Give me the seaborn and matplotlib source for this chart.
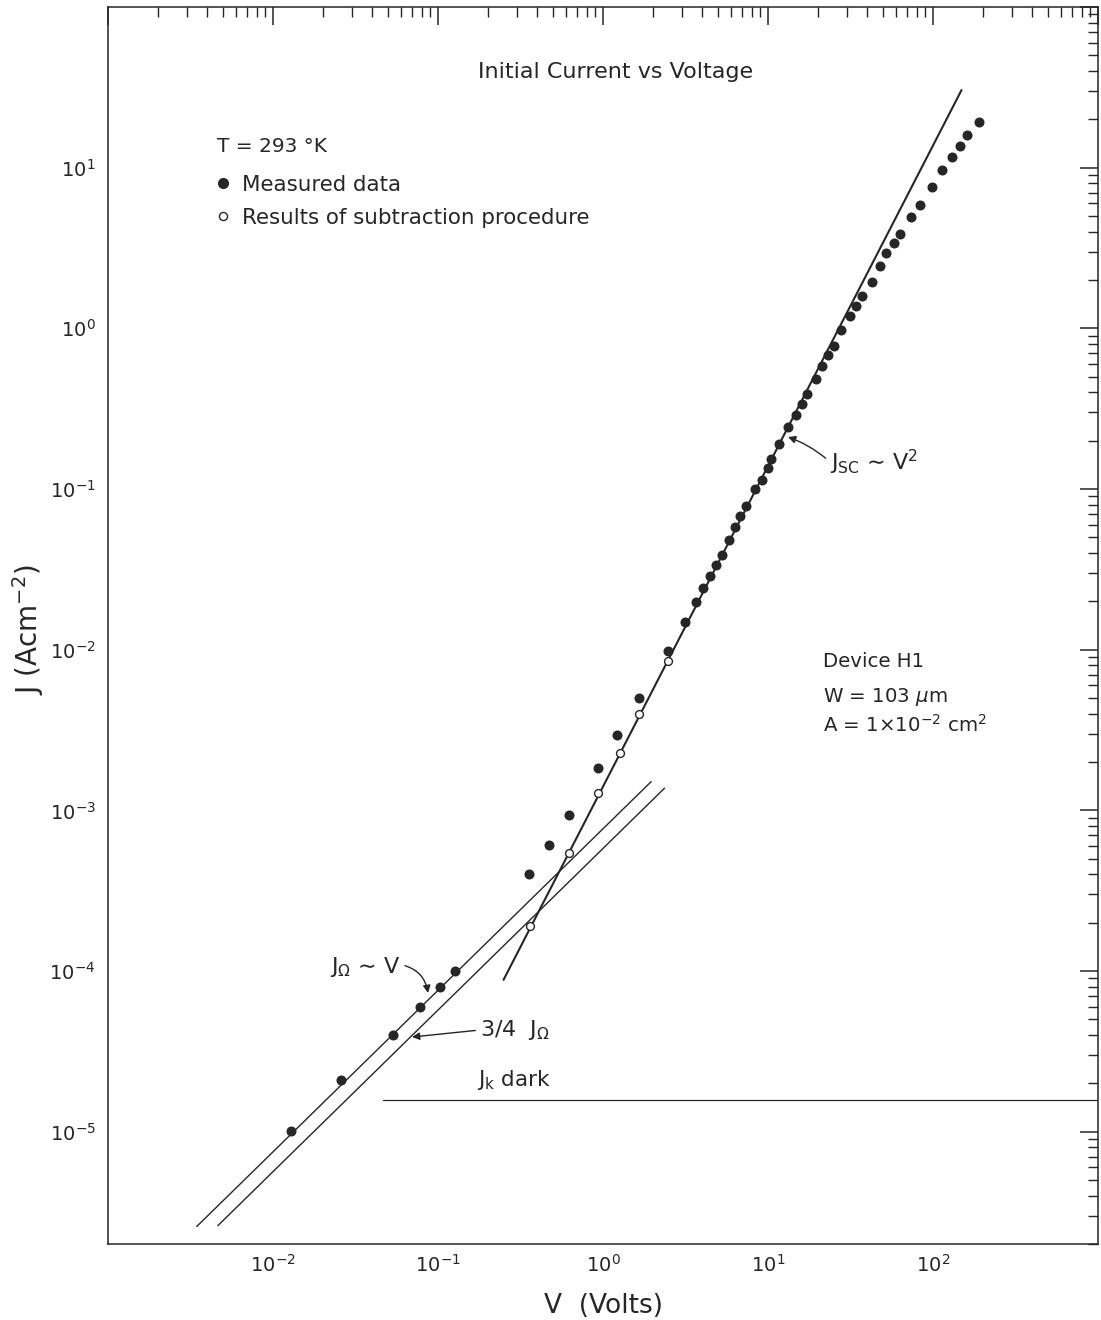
import numpy as np
import pandas as pd
import matplotlib
matplotlib.use("Agg")
import matplotlib.pyplot as plt
import seaborn as sns
from matplotlib.ticker import LogLocator, FuncFormatter, NullFormatter
from matplotlib.lines import Line2D

# ---------------- data ----------------
meas_V = [0.01294, 0.0260, 0.0532, 0.0783, 0.1031, 0.1259,
          0.355, 0.469, 0.621, 0.939, 1.224, 1.664, 2.46,
          3.162, 3.637, 4.009, 4.421, 4.807, 5.227, 5.763, 6.266, 6.720, 7.306,
          8.285, 9.134, 9.931, 10.50, 11.58, 13.31, 14.88, 15.96, 17.35, 19.41,
          21.10, 23.26, 24.95, 27.89, 31.62, 33.91, 36.87, 42.40, 47.41, 52.26,
          57.63, 62.66, 73.06, 82.85, 97.93, 112.6, 129.5, 144.8, 159.6, 188.7]
meas_J = [1.01e-5, 2.10e-5, 4.01e-5, 5.98e-5, 8.01e-5, 1.007e-4,
          4.01e-4, 6.07e-4, 9.41e-4, 1.838e-3, 2.95e-3, 5.01e-3, 9.83e-3,
          1.489e-2, 1.983e-2, 2.424e-2, 2.878e-2, 3.37e-2, 3.89e-2, 4.82e-2, 5.81e-2, 6.80e-2, 7.85e-2,
          0.1001, 0.1139, 0.1353, 0.1539, 0.1909, 0.2434, 0.2891, 0.3385, 0.3906, 0.4844,
          0.5834, 0.6832, 0.777, 0.977, 1.194, 1.378, 1.591, 1.944, 2.445, 2.946,
          3.400, 3.868, 4.934, 5.861, 7.585, 9.676, 11.66, 13.65, 15.98, 19.25]

sub_V = [0.362, 0.626, 0.939, 1.276, 1.664, 2.49]
sub_J = [1.919e-4, 5.44e-4, 1.279e-3, 2.28e-3, 3.99e-3, 8.52e-3]

ohm_V = [3.45e-3, 1.959]          # J_Omega ~ V
ohm_J = [2.57e-6, 1.51e-3]
ohm34_V = [4.63e-3, 2.36]         # 3/4 J_Omega
ohm34_J = [2.60e-6, 1.374e-3]
sc_V = [0.2495, 148.9]            # J_SC ~ V^2
sc_J = [8.81e-5, 30.4]
dark_V = [0.0461, 1000.0]         # J_k dark
dark_J = [1.58e-5, 1.58e-5]

x_label_exps = [-2, -1, 0, 1, 2]
y_label_exps = [-5, -4, -3, -2, -1, 0, 1]

# ---------------- styling ----------------
sns.set_theme(style="white")
plt.rcParams["font.family"] = ["DejaVu Sans"]
plt.rcParams["mathtext.fontset"] = "dejavusans"
INK = "#262626"

W, H = 1101, 1320
fig = plt.figure(figsize=(W / 100, H / 100), dpi=100)
L, R, T, B = 108, 1098, 7, 1244
ax = fig.add_axes([L / W, 1 - B / H, (R - L) / W, (B - T) / H])
ax.set_facecolor("white")


def fp(x, y):
    return (x, H - y)


ax.set_xscale("log")
ax.set_yscale("log")

# lines
for xs, ys, lw in [(ohm_V, ohm_J, 1.0), (ohm34_V, ohm34_J, 1.0),
                   (sc_V, sc_J, 1.5), (dark_V, dark_J, 0.9)]:
    sns.lineplot(x=xs, y=ys, ax=ax, color=INK, lw=lw, sort=False, zorder=2)

# points
sns.scatterplot(x=meas_V, y=meas_J, ax=ax, s=52, color=INK,
                edgecolor=INK, linewidth=0, zorder=3)
sns.scatterplot(x=sub_V, y=sub_J, ax=ax, s=32, color="white",
                edgecolor=INK, linewidth=1.0, zorder=4)

ax.set_xlim(1e-3, 1e3)
ax.set_ylim(2e-6, 1e2)

# ticks
for axis in (ax.xaxis, ax.yaxis):
    axis.set_major_locator(LogLocator(base=10, numticks=30))
    axis.set_minor_locator(LogLocator(base=10, subs=np.arange(2, 10), numticks=200))
    axis.set_minor_formatter(NullFormatter())


def make_fmt(exps):
    def f(v, pos):
        e = int(round(np.log10(v)))
        return f"$10^{{{e}}}$" if e in exps else ""
    return f


ax.xaxis.set_major_formatter(FuncFormatter(make_fmt(x_label_exps)))
ax.yaxis.set_major_formatter(FuncFormatter(make_fmt(y_label_exps)))

ax.tick_params(which="both", direction="in", top=True, right=True,
               colors=INK, labelcolor=INK)
ax.tick_params(which="major", length=13, width=1.1, labelsize=14)
ax.tick_params(which="minor", length=7.5, width=1.0)
ax.tick_params(axis="x", which="major", pad=7)
ax.tick_params(axis="y", which="major", pad=9)

for sp in ax.spines.values():
    sp.set_color(INK)
    sp.set_linewidth(1.1)
    sp.set_visible(True)

ax.set_xlabel("V  (Volts)", fontsize=19, color=INK)
ax.set_ylabel("J (Acm$^{-2}$)", fontsize=20, color=INK)
ax.xaxis.set_label_coords(0.5, -(1293 - B) / (B - T))
ax.yaxis.set_label_coords(-(L - 46) / (R - L), (B - 630) / (B - T))

# texts
def ftext(x, y, s, size=15, **kw):
    fig.text(x / W, 1 - y / H, s, fontsize=size, color=INK, va="center", **kw)


ftext(478, 72, "Initial Current vs Voltage", size=16)
ftext(217, 147, "T = 293 °K", size=14.5)
ftext(823, 662, "Device H1", size=14.2)
ftext(823, 697, "W = 103 $\\mu$m", size=14.2)
ftext(823, 725, "A = 1×10$^{-2}$ cm$^2$", size=14.2)
ftext(477, 1080, "J$_\\mathrm{k}$ dark", size=15.5)

handles = [Line2D([], [], ls="none", marker="o", ms=7, mfc=INK, mec=INK),
           Line2D([], [], ls="none", marker="o", ms=5.8, mfc="white", mec=INK, mew=1.0)]
fig.legend(handles, ["Measured data", "Results of subtraction procedure"],
           loc="upper left", bbox_to_anchor=(205 / W, 1 - 164 / H),
           frameon=False, fontsize=15.4, handlelength=0.7, handletextpad=0.55,
           labelspacing=0.62, borderpad=0, labelcolor=INK)

ap = dict(arrowstyle="-|>", color=INK, lw=1.0, mutation_scale=11, shrinkA=1, shrinkB=0)
ax.annotate("J$_\\mathrm{SC}$ ∼ V$^2$", xy=fp(788, 437), xycoords="figure pixels",
            xytext=fp(830, 462), textcoords="figure pixels", fontsize=16, color=INK,
            ha="left", va="center",
            arrowprops=dict(ap, relpos=(0, 0.5), connectionstyle="arc3,rad=0.1"))
ax.annotate("J$_\\Omega$ ∼ V", xy=fp(428, 993), xycoords="figure pixels",
            xytext=fp(330, 967), textcoords="figure pixels", fontsize=16, color=INK,
            ha="left", va="center",
            arrowprops=dict(ap, relpos=(1, 0.6), connectionstyle="arc3,rad=-0.35"))
ax.annotate("3/4  J$_\\Omega$", xy=fp(412, 1037), xycoords="figure pixels",
            xytext=fp(480, 1030), textcoords="figure pixels", fontsize=16, color=INK,
            ha="left", va="center",
            arrowprops=dict(ap, relpos=(0, 0.5), connectionstyle="arc3,rad=0.0"))

fig.savefig("out.png", dpi=100, facecolor="white")
